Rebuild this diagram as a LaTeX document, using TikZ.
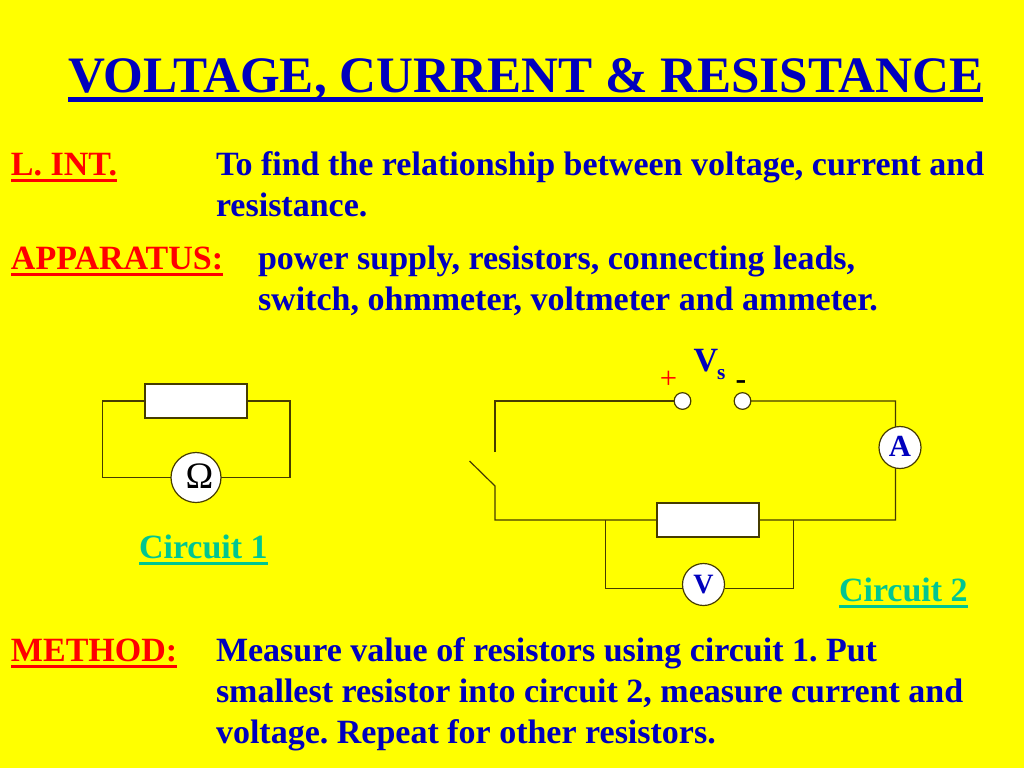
\documentclass[tikz,border=0pt]{standalone}
\usepackage{fontspec}
\setmainfont{Liberation Serif}
\frenchspacing
\definecolor{bgyel}{RGB}{255,255,0}
\definecolor{txtblue}{RGB}{0,0,190}
\definecolor{txtred}{RGB}{255,0,0}
\definecolor{txtteal}{RGB}{0,198,145}
\definecolor{wirecol}{RGB}{70,60,0}
\tikzset{
 every node/.style={inner sep=0pt,outer sep=0pt},
 txt/.style={anchor=base west,font=\bfseries\fontsize{25.5}{30}\selectfont,text=txtblue},
 redtxt/.style={txt,text=txtred},
 tealtxt/.style={txt,text=txtteal},
 titletxt/.style={anchor=base west,font=\bfseries\fontsize{38.33}{44}\selectfont,text=txtblue},
 wire/.style={draw=wirecol,line width=0.9pt,line join=miter},
 res/.style={draw=wirecol,fill=white,line width=0.9pt,minimum width=76.5pt,minimum height=25.5pt},
 meterbig/.style={circle,draw=wirecol,fill=white,line width=0.9pt,minimum size=37.5pt,text=black},
 metermid/.style={circle,draw=wirecol,fill=white,line width=0.9pt,minimum size=31.5pt,text=txtblue,font=\bfseries\fontsize{23}{26}\selectfont},
 metersm/.style={circle,draw=wirecol,fill=white,line width=0.9pt,minimum size=31.5pt,text=txtblue,font=\bfseries\fontsize{21}{24}\selectfont},
 term/.style={circle,draw=wirecol,fill=white,line width=0.9pt,minimum size=12.5pt},
 ul/.style={line width=2.3pt},
}
\begin{document}
\begin{tikzpicture}[x=0.75pt,y=-0.75pt]
\useasboundingbox[fill=bgyel] (0,0) rectangle (1024,768);
% texts
\node[titletxt] (title) at (68,92) {VOLTAGE, CURRENT \& RESISTANCE};
\draw[txtblue,line width=3.4pt] ([yshift=-5.6pt]title.base west) -- ([yshift=-5.6pt]title.base east);
\node[redtxt] (lint) at (11,175) {L. INT.};
\draw[ul,txtred] ([yshift=-3.8pt]lint.base west) -- ([yshift=-3.8pt]lint.base east);
\node[txt] (aim1) at (216,175) {To find the relationship between voltage, current and};
\node[txt] (aim2) at (216,216) {resistance.};
\node[redtxt] (app) at (11,269) {APPARATUS:};
\draw[ul,txtred] ([yshift=-3.8pt]app.base west) -- ([yshift=-3.8pt]app.base east);
\node[txt] (app1) at (258,269) {power supply, resistors, connecting leads,};
\node[txt] (app2) at (258,310) {switch, ohmmeter, voltmeter and ammeter.};
\node[redtxt] (meth) at (11,661) {METHOD:};
\draw[ul,txtred] ([yshift=-3.8pt]meth.base west) -- ([yshift=-3.8pt]meth.base east);
\node[txt] (m1) at (216,661) {Measure value of resistors using circuit 1. Put};
\node[txt] (m2) at (216,702) {smallest resistor into circuit 2, measure current and};
\node[txt] (m3) at (216,743) {voltage. Repeat for other resistors.};
\node[tealtxt] (c1) at (139,558) {Circuit 1};
\draw[ul,txtteal] ([yshift=-3.8pt]c1.base west) -- ([yshift=-3.8pt]c1.base east);
\node[tealtxt] (c2) at (839,601) {Circuit 2};
\draw[ul,txtteal] ([yshift=-3.8pt]c2.base west) -- ([yshift=-3.8pt]c2.base east);
% circuit 1
\coordinate (a1) at (102.5,401);
\coordinate (a2) at (290,401);
\coordinate (a3) at (290,477.5);
\coordinate (a4) at (102.5,477.5);
\node[meterbig] (ohm) at (196,477.5) {};
\node[anchor=base,font=\fontsize{28}{30}\selectfont,text=black] (ohmt) at (199.5,488) {Ω};
\draw[wire] (ohm.west) -- (a4) -- (a1) -- (a2) -- (a3) -- (ohm.east);
\node[res] (r1) at (196,401) {};
% circuit 2
\node[term] (tp) at (682.5,401) {};
\node[term] (tm) at (742.5,401) {};
\coordinate (b1) at (495,401);
\coordinate (b2) at (895.5,401);
\coordinate (b3) at (895.5,520);
\coordinate (b4) at (495,520);
\coordinate (sw1) at (495,452);
\coordinate (sw2) at (495,486);
\coordinate (sw3) at (469.5,461);
\coordinate (p1) at (605.5,520);
\coordinate (p2) at (793.5,520);
\coordinate (p3) at (793.5,588.5);
\coordinate (p4) at (605.5,588.5);
\draw[wire] (tm.east) -- (b2) -- (b3) -- (b4) -- (sw2) -- (sw3);
\draw[wire] (sw1) -- (b1) -- (tp.west);
\node[metermid] (amm) at (900,447.5) {\raisebox{2pt}{A}};
\node[metersm] (vm) at (703.5,584.5) {\raisebox{-1pt}{V}};
\draw[wire] (p1) -- (p4) -- (vm.west |- p4);
\draw[wire] (p2) -- (p3) -- (vm.east |- p3);
\node[res] (r2) at (708,520) {};
\node[anchor=base west,font=\bfseries\fontsize{25.5}{30}\selectfont,text=txtblue] (vs) at (693.5,371) {V};
\node[anchor=base west,font=\bfseries\fontsize{16}{20}\selectfont,text=txtblue] (vss) at (717,379) {s};
\node[anchor=base,font=\fontsize{23}{28}\selectfont,text=txtred] (plus) at (668.5,388) {+};
\node[anchor=base,font=\bfseries\fontsize{24}{28}\selectfont,text=black] (minus) at (741,389) {-};
\end{tikzpicture}
\end{document}
